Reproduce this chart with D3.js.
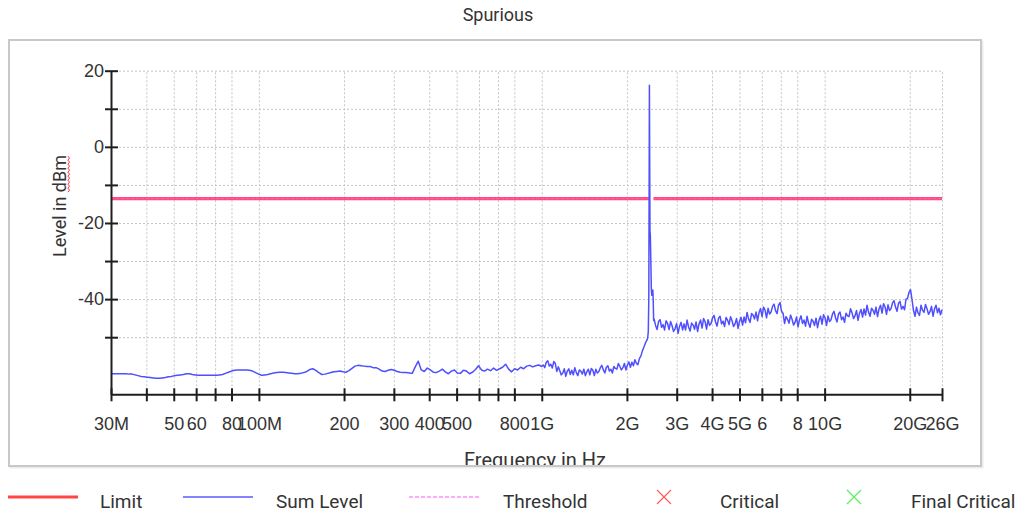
<!DOCTYPE html>
<html>
<head>
<meta charset="utf-8">
<script src="https://cdn.jsdelivr.net/npm/d3@7"></script>
<style>
  html, body { margin: 0; padding: 0; background: #ffffff; }
  svg { display: block; font-family: Roboto, "Noto Sans", sans-serif; }
</style>
</head>
<body>
<svg id="chart" width="1032" height="514"></svg>
<script>
// ---- Measured trace: sweep subranges (frequency in MHz, level in dBm) ----
const lowRangeStartMHz = 30;
const lowRangeStopMHz = 1000;
const lowRangeLevels = [
  -59.6, -59.6, -59.6, -59.6, -59.6, -59.6, -59.7, -59.7, -59.9, -60.1,
  -60.3, -60.4, -60.5, -60.6, -60.7, -60.8, -60.8, -60.7, -60.6, -60.4,
  -60.3, -60.1, -60.0, -59.9, -59.8, -59.6, -59.6, -59.8, -59.9, -60.0,
  -60.0, -60.0, -60.0, -60.0, -60.0, -60.0, -59.9, -59.8, -59.5, -59.2,
  -58.9, -58.7, -58.6, -58.6, -58.6, -58.6, -58.7, -58.9, -59.3, -59.7,
  -60.0, -59.9, -59.8, -59.6, -59.4, -59.3, -59.2, -59.2, -59.3, -59.4,
  -59.5, -59.6, -59.6, -59.5, -59.3, -59.0, -58.5, -58.3, -58.7, -59.3,
  -59.8, -59.7, -59.5, -59.3, -59.1, -59.0, -58.9, -59.1, -59.2, -58.8,
  -58.2, -57.6, -57.4, -57.5, -57.6, -57.7, -57.7, -58.0, -58.0, -58.4,
  -58.9, -59.0, -58.7, -58.5, -58.7, -59.0, -59.2, -59.3, -59.3, -59.4,
  -59.5, -57.8, -56.3, -58.6, -59.0, -58.1, -58.6, -59.2, -59.3, -58.9,
  -58.4, -59.1, -59.6, -58.9, -58.6, -59.4, -59.5, -58.7, -58.9, -59.6,
  -59.2, -58.5, -57.5, -58.6, -58.9, -58.4, -58.8, -58.1, -58.7, -58.3,
  -57.9, -57.1, -58.4, -59.1, -58.3, -58.6, -57.9, -58.3, -57.6, -57.4,
  -57.8, -57.5, -57.3, -57.7
];

const midRangeStartMHz = 1000;
const midRangeStopMHz = 2354;
const midRangeLevels = [
  -56.1, -57.3, -58.0, -56.6, -56.2, -57.6, -57.1, -58.1, -56.4, -56.9,
  -59.0, -57.8, -58.8, -59.9, -59.4, -58.3, -60.3, -58.9, -58.3, -59.8,
  -58.7, -59.9, -58.0, -59.3, -60.1, -58.6, -58.9, -59.7, -58.4, -60.1,
  -59.1, -58.4, -59.9, -58.2, -58.7, -60.1, -58.4, -59.4, -59.0, -58.0,
  -57.4, -58.6, -59.4, -57.9, -57.5, -58.9, -58.4, -59.4, -57.7, -58.2,
  -58.4, -56.9, -57.7, -58.6, -58.0, -56.9, -58.6, -57.3, -56.5, -57.9,
  -56.6, -57.5, -55.9, -56.9, -57.2, -55.6, -54.9, -53.6, -52.6, -51.5,
  -50.8
];

// Carrier neighbourhood, recorded point by point
const carrierFreqMHz = [2368, 2380, 2390, 2397, 2402, 2407, 2413, 2420, 2430, 2440, 2450, 2460, 2470, 2478, 2486];
const carrierLevels  = [-50.2, -48.6, -40.0, -10.0, 16.2, -2.0, -22.0, -23.2, -30.0, -37.5, -39.0, -38.4, -37.6, -40.5, -45.6];

const highRangeStartMHz = 2495;
const highRangeStopMHz = 26000;
const highRangeLevels = [
  -45.2, -46.9, -48.0, -45.9, -45.4, -47.4, -46.7, -48.1, -45.7, -46.4,
  -48.0, -45.9, -47.0, -48.5, -47.8, -46.4, -49.0, -47.1, -46.1, -48.1,
  -46.5, -48.1, -45.5, -47.3, -48.4, -46.3, -46.8, -47.9, -46.0, -48.5,
  -46.5, -45.5, -47.6, -45.1, -45.9, -47.9, -45.4, -46.9, -46.4, -44.9,
  -44.3, -46.0, -47.1, -45.0, -44.5, -46.5, -45.8, -47.2, -44.8, -45.5,
  -46.7, -44.6, -45.7, -47.2, -46.5, -45.1, -47.7, -45.8, -44.8, -46.8,
  -44.7, -46.2, -43.5, -45.2, -46.1, -43.8, -44.2, -45.2, -43.4, -45.7,
  -43.5, -42.5, -44.6, -42.1, -42.9, -44.9, -42.4, -43.9, -43.4, -41.9,
  -41.3, -43.0, -43.8, -41.6, -40.9, -43.2, -43.7, -46.4, -44.6, -45.3,
  -46.3, -44.2, -45.3, -46.8, -46.1, -44.7, -47.3, -45.4, -44.4, -46.4,
  -45.5, -47.1, -44.5, -46.3, -47.4, -45.3, -45.8, -46.9, -45.0, -47.5,
  -45.5, -44.5, -46.6, -44.1, -44.9, -46.9, -44.4, -45.9, -45.4, -43.9,
  -43.2, -44.9, -46.0, -43.9, -43.4, -45.4, -44.7, -46.1, -43.7, -44.4,
  -44.6, -42.5, -43.6, -45.1, -44.4, -43.0, -45.6, -43.7, -42.7, -44.7,
  -42.6, -44.2, -41.6, -43.4, -44.5, -42.4, -42.9, -44.0, -42.1, -44.6,
  -42.6, -41.6, -43.7, -41.2, -42.0, -44.0, -41.5, -43.0, -42.5, -41.0,
  -40.4, -42.1, -43.2, -41.1, -40.6, -42.6, -41.9, -42.8, -40.0, -39.8,
  -38.2, -37.5, -40.1, -43.0, -44.5, -42.1, -43.6, -44.3, -41.6, -42.9,
  -43.5, -41.4, -42.5, -44.0, -43.3, -41.9, -44.5, -42.6, -41.6, -43.6,
  -42.4, -44.1, -42.8
];

// ---- Limit and threshold (dBm), applied outside the 2400-2483.5 MHz band ----
const limitLevel = -13.6;
const thresholdLevel = -13.6;
const limitBandStartMHz = [30, 2483.5];
const limitBandStopMHz  = [2400, 26000];

// ---- Axes ----
const xTickValuesMHz = [30, 40, 50, 60, 70, 80, 100, 200, 300, 400, 500, 600, 700, 800,
                        1000, 2000, 3000, 4000, 5000, 6000, 7000, 8000, 10000, 20000, 26000];
const xTickLabels = ["30M", "", "50", "60", "", "80", "100M", "200", "300", "400", "500", "", "", "800",
                     "1G", "2G", "3G", "4G", "5G", "6", "", "8", "10G", "20G", "26G"];
const yTickValues = [20, 10, 0, -10, -20, -30, -40, -50];
const yTickLabels = ["20", "", "0", "", "-20", "", "-40", ""];
const yDomain = [-65, 20];

const titleText = "Spurious";
const xAxisTitle = "Frequency in Hz";
const yAxisTitle = "Level in dBm";
const legendNames = ["Limit", "Sum Level", "Threshold", "Critical", "Final Critical"];

// ---- Build the trace from the sweep subranges ----
function sweep(startMHz, stopMHz, levels) {
  const n = levels.length;
  const ratio = stopMHz / startMHz;
  return levels.map((lvl, i) => ({ f: startMHz * Math.pow(ratio, i / (n - 1)), v: lvl }));
}
const trace = [].concat(
  sweep(lowRangeStartMHz, lowRangeStopMHz, lowRangeLevels),
  sweep(midRangeStartMHz, midRangeStopMHz, midRangeLevels).slice(1),
  carrierFreqMHz.map((f, i) => ({ f: f, v: carrierLevels[i] })),
  sweep(highRangeStartMHz, highRangeStopMHz, highRangeLevels)
);

// ---- Layout ----
const plot = { left: 111, right: 942, top: 70.7, bottom: 394.3 };
const frame = { x: 9, y: 40, w: 972, h: 426 };
const textColor = "#333333";
const fontSize = 18;

const svg = d3.select("#chart");

const x = d3.scaleLog().domain([xTickValuesMHz[0], xTickValuesMHz[xTickValuesMHz.length - 1]])
  .range([plot.left, plot.right]);
const y = d3.scaleLinear().domain(yDomain).range([plot.bottom, plot.top]);

// Panel frame with a soft shadow on the right/bottom
svg.append("rect")
  .attr("x", frame.x + 1.5).attr("y", frame.y + 1.5)
  .attr("width", frame.w).attr("height", frame.h)
  .attr("fill", "none").attr("stroke", "#ececec").attr("stroke-width", 2);
svg.append("rect")
  .attr("x", frame.x).attr("y", frame.y)
  .attr("width", frame.w).attr("height", frame.h)
  .attr("fill", "#ffffff").attr("stroke", "#c8c8c8").attr("stroke-width", 2);

const defs = svg.append("defs");
defs.append("clipPath").attr("id", "frameClip")
  .append("rect").attr("x", frame.x + 1).attr("y", frame.y + 1)
  .attr("width", frame.w - 2).attr("height", frame.h - 2);
defs.append("clipPath").attr("id", "plotClip")
  .append("rect").attr("x", plot.left).attr("y", plot.top - 20)
  .attr("width", plot.right - plot.left + 1).attr("height", plot.bottom - plot.top + 20);

// Title
svg.append("text")
  .attr("x", 498).attr("y", 21)
  .attr("text-anchor", "middle")
  .attr("font-size", 18).attr("fill", textColor)
  .text(titleText);

const panel = svg.append("g").attr("clip-path", "url(#frameClip)");

// Dotted grid
const gridColor = "#c4c4c4";
panel.append("g")
  .attr("transform", `translate(0,${plot.bottom})`)
  .call(d3.axisBottom(x).tickValues(xTickValuesMHz).tickFormat("")
    .tickSizeInner(-(plot.bottom - plot.top)).tickSizeOuter(0))
  .call(g => g.select(".domain").remove())
  .call(g => g.selectAll(".tick line")
    .attr("stroke", gridColor).attr("stroke-dasharray", "2,2"));
panel.append("g")
  .attr("transform", `translate(${plot.left},0)`)
  .call(d3.axisLeft(y).tickValues(yTickValues).tickFormat("")
    .tickSizeInner(-(plot.right - plot.left)).tickSizeOuter(0))
  .call(g => g.select(".domain").remove())
  .call(g => g.selectAll(".tick line")
    .attr("stroke", gridColor).attr("stroke-dasharray", "2,2"));

// Limit (solid) and threshold (dashed) lines
const bandLine = d3.line().x(d => x(d.f)).y(d => y(d.v));
limitBandStartMHz.forEach((f0, i) => {
  const f1 = limitBandStopMHz[i];
  panel.append("path")
    .attr("d", bandLine([{ f: f0, v: limitLevel }, { f: f1, v: limitLevel }]))
    .attr("fill", "none").attr("stroke", "#ff4d73").attr("stroke-width", 3.2);
  panel.append("path")
    .attr("d", bandLine([{ f: f0, v: thresholdLevel }, { f: f1, v: thresholdLevel }]))
    .attr("fill", "none").attr("stroke", "#ff55e0").attr("stroke-width", 1)
    .attr("stroke-dasharray", "3,2");
});

// Sum level trace
panel.append("path")
  .datum(trace)
  .attr("clip-path", "url(#plotClip)")
  .attr("d", d3.line().x(d => x(d.f)).y(d => y(d.v)))
  .attr("fill", "none")
  .attr("stroke", "#4f4fff")
  .attr("stroke-width", 1.5)
  .attr("stroke-linejoin", "round");

// Axes
const axisColor = "#1e1e1e";
const xAxis = panel.append("g")
  .attr("transform", `translate(0,${plot.bottom})`)
  .call(d3.axisBottom(x).tickValues(xTickValuesMHz)
    .tickFormat((d, i) => xTickLabels[i]).tickSizeOuter(0));
xAxis.select(".domain").attr("stroke", axisColor).attr("stroke-width", 2);
xAxis.selectAll(".tick line").attr("y1", -6).attr("y2", 7)
  .attr("stroke", axisColor).attr("stroke-width", 2);
xAxis.selectAll(".tick text").attr("y", 23).attr("dy", "0.71em")
  .attr("font-size", fontSize).attr("font-family", null).attr("fill", textColor);

const yAxis = panel.append("g")
  .attr("transform", `translate(${plot.left},0)`)
  .call(d3.axisLeft(y).tickValues(yTickValues)
    .tickFormat((d, i) => yTickLabels[i]).tickSizeOuter(0));
yAxis.select(".domain").attr("stroke", axisColor).attr("stroke-width", 2);
yAxis.selectAll(".tick line").attr("x1", -6).attr("x2", 7)
  .attr("stroke", axisColor).attr("stroke-width", 2);
yAxis.selectAll(".tick text").attr("x", -7)
  .attr("font-size", fontSize).attr("font-family", null).attr("fill", textColor);

// Axis titles (the x title sits partly below the frame edge and is cut by it)
panel.append("text")
  .attr("x", 535).attr("y", 467)
  .attr("text-anchor", "middle")
  .attr("font-size", 20).attr("fill", textColor)
  .text(xAxisTitle);

const yTitleG = panel.append("g").attr("transform", "translate(66,206) rotate(-90)");
const yTitle = yTitleG.append("text")
  .attr("x", 0).attr("y", 0)
  .attr("text-anchor", "middle")
  .attr("font-size", fontSize).attr("fill", textColor)
  .text(yAxisTitle);

// Red spell-check squiggle under the unit
(function () {
  const node = yTitle.node();
  const total = node.getComputedTextLength();
  const unitStart = yAxisTitle.indexOf("dBm");
  const s = -total / 2 + node.getSubStringLength(0, unitStart);
  const e = s + node.getSubStringLength(unitStart, 3);
  const pts = [];
  for (let t = s, k = 0; t <= e; t += 2, k++) pts.push([t, 2.2 + (k % 2 ? 1.3 : -0.3)]);
  yTitleG.append("path")
    .attr("d", d3.line()(pts))
    .attr("fill", "none").attr("stroke", "#ff3030").attr("stroke-width", 1);
})();

// Legend
const legendY = 497;
const legendTextY = 508;
const legend = svg.append("g").attr("font-size", 19).attr("fill", textColor);

// Limit
legend.append("line").attr("x1", 8).attr("x2", 78).attr("y1", legendY).attr("y2", legendY)
  .attr("stroke", "#ff4545").attr("stroke-width", 3);
legend.append("text").attr("x", 100).attr("y", legendTextY).text(legendNames[0]);
// Sum level
legend.append("line").attr("x1", 183).attr("x2", 253).attr("y1", legendY).attr("y2", legendY)
  .attr("stroke", "#5a5aff").attr("stroke-width", 1.3);
legend.append("text").attr("x", 276).attr("y", legendTextY).text(legendNames[1]);
// Threshold
legend.append("line").attr("x1", 409).attr("x2", 480).attr("y1", legendY).attr("y2", legendY)
  .attr("stroke", "#ff55ff").attr("stroke-width", 1.2).attr("stroke-dasharray", "4,2");
legend.append("text").attr("x", 503).attr("y", legendTextY).text(legendNames[2]);
// Critical / Final critical markers
function cross(cx, cy, color) {
  const r = 7;
  legend.append("path")
    .attr("d", `M${cx - r},${cy - r}L${cx + r},${cy + r}M${cx + r},${cy - r}L${cx - r},${cy + r}`)
    .attr("stroke", color).attr("stroke-width", 1.2).attr("fill", "none");
}
cross(664, legendY, "#ff5a5a");
legend.append("text").attr("x", 720).attr("y", legendTextY).text(legendNames[3]);
cross(854, legendY, "#5aee5a");
legend.append("text").attr("x", 911).attr("y", legendTextY).text(legendNames[4]);
</script>
</body>
</html>
